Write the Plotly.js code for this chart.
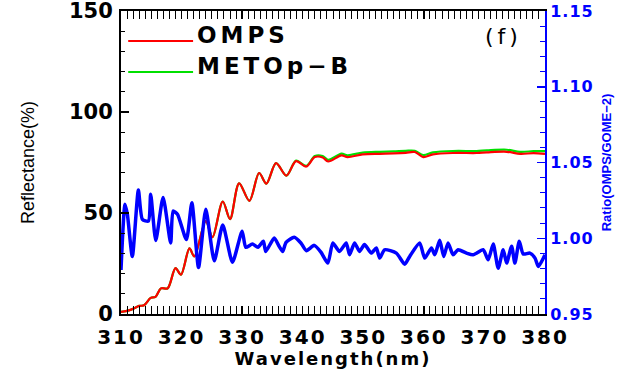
<!DOCTYPE html>
<html>
<head>
<meta charset="utf-8">
<script src="https://cdn.plot.ly/plotly-3.0.1.min.js"></script>
<style>
  html, body { margin: 0; padding: 0; background: #ffffff; }
  #chart { width: 620px; height: 369px; }
  /* wide, evenly spaced lettering for labels */
  #chart .xtick text { letter-spacing: 2px; }
  #chart .y2tick text { letter-spacing: 1px; }
  .xtitle { letter-spacing: 2px; }
  .annotation-text { letter-spacing: 4px; }
</style>
</head>
<body>
<div id="chart"></div>
<script>
// Reflectance spectra (%), sampled at the wavelengths below (nm)
const wlRefl = [310.0, 311.3, 312.3, 313.0, 313.8, 314.9, 315.7, 316.6, 317.7, 319.0,
                319.9, 321.3, 322.1, 324.0, 325.1, 326.8, 328.0, 329.5, 331.2, 332.8,
                334.0, 335.6, 337.3, 338.9, 340.6, 342.0, 343.3, 344.2, 346.4, 347.4,
                349.9, 352.7, 355.0, 357.0, 358.5, 359.9, 361.5, 364.8, 368.7, 370.4,
                373.7, 375.9, 378.1, 380.0];
const omps    = [1.0, 1.8, 3.0, 4.0, 4.3, 8.0, 8.5, 12.7, 12.7, 22.7,
                 19.5, 32.5, 28.5, 46.0, 38.0, 55.7, 47.0, 64.7, 56.0, 69.8,
                 64.5, 74.7, 68.5, 75.7, 73.0, 77.7, 77.5, 75.5, 78.5, 77.7,
                 79.0, 79.3, 79.5, 79.8, 80.2, 77.7, 79.0, 79.7, 79.7, 80.0,
                 80.3, 79.3, 79.6, 79.3];
const metop   = [1.0, 1.8, 3.0, 4.0, 4.3, 8.0, 8.5, 12.7, 12.7, 22.7,
                 19.5, 32.5, 28.5, 46.0, 38.0, 55.7, 47.0, 64.7, 56.0, 69.8,
                 64.5, 74.7, 68.5, 75.9, 73.3, 78.2, 78.2, 76.3, 79.4, 78.6,
                 79.9, 80.3, 80.5, 80.8, 80.8, 78.7, 80.0, 80.7, 80.7, 81.0,
                 81.3, 80.3, 80.6, 80.6];

// Ratio OMPS / GOME-2
const wlRatio = [310.0, 310.66, 311.05, 311.87, 312.87, 313.53, 314.52, 314.9, 315.74, 316.95,
                 318.2, 318.6, 319.32, 320.8, 321.7, 322.8, 324.0, 325.4, 326.8, 328.4,
                 330.0, 330.6, 331.7, 332.6, 333.5, 333.9, 335.3, 336.1, 336.7, 337.25,
                 338.6, 339.7, 340.6, 341.9, 343.0, 344.15, 344.97, 346.07, 347.18, 347.73,
                 348.56, 349.38, 350.2, 351.32, 352.15, 352.7, 353.52, 355.46, 356.83, 357.66,
                 359.31, 360.14, 361.25, 361.8, 362.62, 363.28, 364.0, 364.83, 365.65, 367.04,
                 368.14, 369.79, 370.62, 371.45, 372.27, 373.1, 373.66, 374.49, 375.03, 375.75,
                 376.4, 377.5, 378.35, 378.9, 380.0];
const ratio   = [0.9791, 1.0225, 1.0158, 0.9880, 1.0318, 1.0125, 1.0113, 1.0291, 0.9985, 1.0269,
                 0.9969, 1.0180, 1.0158, 0.9991, 1.0235, 0.9807, 1.0191, 0.9851, 1.0087, 0.9842,
                 1.0047, 0.9940, 0.9962, 0.9940, 0.9980, 0.9913, 1.0002, 0.9947, 0.9913, 0.9973,
                 1.0007, 0.9969, 0.9918, 0.9953, 0.9909, 0.9836, 0.9969, 0.9913, 0.9969, 0.9891,
                 0.9969, 0.9913, 0.9958, 0.9902, 0.9936, 0.9869, 0.9924, 0.9902, 0.9829, 0.9880,
                 0.9969, 0.9869, 0.9936, 0.9891, 0.9987, 0.9880, 0.9969, 0.9891, 0.9924, 0.9902,
                 0.9891, 0.9924, 0.9858, 0.9962, 0.9802, 0.9924, 0.9836, 0.9947, 0.9836, 0.9980,
                 0.9896, 0.9902, 0.9869, 0.9813, 0.9891];

const seriesNames = ['OMPS', 'METOp\u2212B'];
const panelLabel = '(f)';

const BLACK = '#000000';
const BLUE = '#0000ff';
const RED = '#ff0000';
const GREEN = '#00e000';

const traces = [
  { x: wlRefl, y: metop, name: seriesNames[1], type: 'scatter', mode: 'lines',
    line: { color: GREEN, width: 2.2, shape: 'spline', smoothing: 0.9 }, yaxis: 'y' },
  { x: wlRefl, y: omps, name: seriesNames[0], type: 'scatter', mode: 'lines',
    line: { color: RED, width: 2.2, shape: 'spline', smoothing: 0.9 }, yaxis: 'y' },
  { x: wlRatio, y: ratio, name: 'Ratio', type: 'scatter', mode: 'lines',
    line: { color: BLUE, width: 3.5, shape: 'spline', smoothing: 0.6 }, yaxis: 'y2' }
];

// Line-sample legend drawn in paper coordinates
const legendShapes = [
  { type: 'line', xref: 'paper', yref: 'paper', x0: 0.017, x1: 0.170, y0: 0.901, y1: 0.901,
    line: { color: RED, width: 2 } },
  { type: 'line', xref: 'paper', yref: 'paper', x0: 0.017, x1: 0.170, y0: 0.799, y1: 0.799,
    line: { color: GREEN, width: 2 } }
];
const legendFont = { family: 'DejaVu Sans', size: 23, weight: 'bold', color: BLACK };
const annotations = [
  { xref: 'paper', yref: 'paper', x: 0.174, y: 0.922, xanchor: 'left', yanchor: 'middle',
    text: seriesNames[0], showarrow: false, font: legendFont },
  { xref: 'paper', yref: 'paper', x: 0.174, y: 0.818, xanchor: 'left', yanchor: 'middle',
    text: seriesNames[1], showarrow: false, font: legendFont },
  { xref: 'paper', yref: 'paper', x: 0.902, y: 0.915, xanchor: 'center', yanchor: 'middle',
    text: panelLabel, showarrow: false,
    font: { family: 'DejaVu Sans', size: 22, color: BLACK } }
];

const layout = {
  width: 620, height: 369,
  margin: { l: 121, r: 75, t: 11, b: 55, pad: 0 },
  paper_bgcolor: '#ffffff', plot_bgcolor: '#ffffff',
  showlegend: false,
  xaxis: {
    range: [310, 380], dtick: 10, tick0: 310,
    showgrid: false, zeroline: false,
    showline: true, linecolor: BLACK, linewidth: 2, mirror: 'allticks',
    ticks: 'inside', ticklen: 8, tickwidth: 1.5, tickcolor: BLACK,
    minor: { dtick: 1, ticks: 'inside', ticklen: 4, tickwidth: 1, tickcolor: BLACK, showgrid: false },
    tickfont: { family: 'DejaVu Sans', size: 20, weight: 'bold', color: BLACK },
    ticklabelstandoff: 4, ticklabeloverflow: 'allow',
    title: { text: 'Wavelength(nm)', font: { family: 'DejaVu Sans', size: 18, weight: 'bold', color: BLACK }, standoff: 2 }
  },
  yaxis: {
    range: [0, 150], dtick: 50, tick0: 0,
    showgrid: false, zeroline: false,
    showline: true, linecolor: BLACK, linewidth: 2,
    ticks: 'inside', ticklen: 8, tickwidth: 1.5, tickcolor: BLACK,
    minor: { dtick: 10, ticks: 'inside', ticklen: 4, tickwidth: 1, tickcolor: BLACK, showgrid: false },
    tickfont: { family: 'DejaVu Sans', size: 21, weight: 'bold', color: BLACK },
    ticklabelstandoff: 2, ticklabeloverflow: 'allow',
    title: { text: 'Reflectance(%)', font: { family: 'Liberation Sans', size: 18, color: BLACK }, standoff: 30 }
  },
  yaxis2: {
    overlaying: 'y', side: 'right',
    range: [0.95, 1.15], dtick: 0.05, tick0: 0.95, tickformat: '.2f',
    showgrid: false, zeroline: false,
    showline: true, linecolor: BLUE, linewidth: 2,
    ticks: 'inside', ticklen: 8, tickwidth: 1.5, tickcolor: BLUE,
    minor: { dtick: 0.01, ticks: 'inside', ticklen: 5, tickwidth: 1, tickcolor: BLUE, showgrid: false },
    tickfont: { family: 'DejaVu Sans', size: 16, weight: 'bold', color: BLUE },
    ticklabelstandoff: 0, ticklabeloverflow: 'allow',
    title: { text: 'Ratio(OMPS/GOME\u22122)', font: { family: 'Liberation Sans', size: 13, weight: 'bold', color: BLUE }, standoff: 13 }
  },
  shapes: legendShapes,
  annotations: annotations
};

Plotly.newPlot('chart', traces, layout, { displayModeBar: false, staticPlot: true });
</script>
</body>
</html>
